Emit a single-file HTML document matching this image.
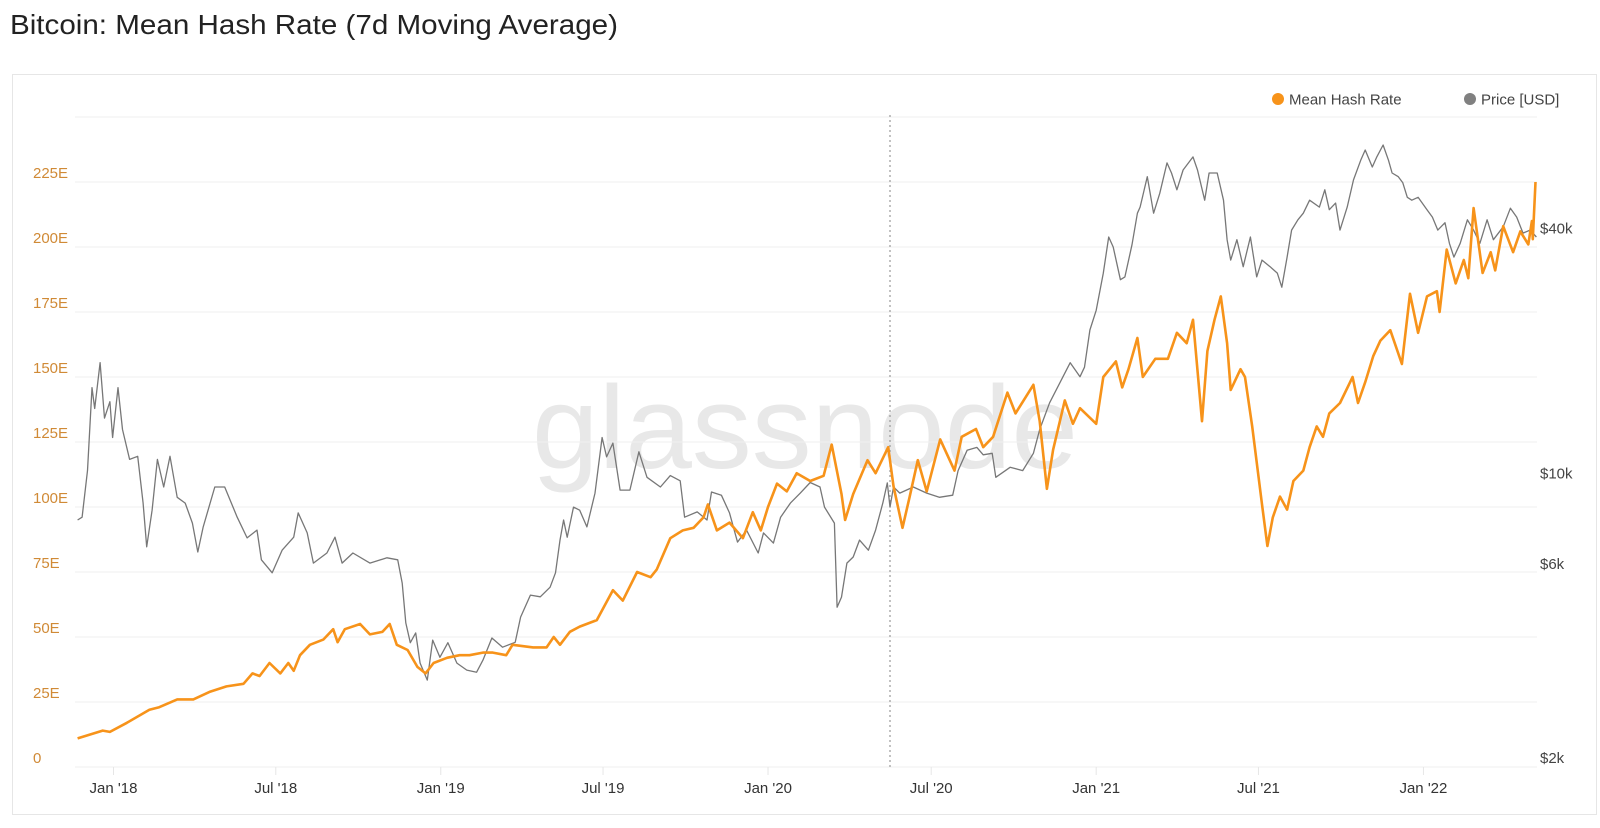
<!DOCTYPE html>
<html><head><meta charset="utf-8"><style>
html,body{margin:0;padding:0;background:#fff;width:1600px;height:828px;overflow:hidden}
svg{display:block;font-family:"Liberation Sans",sans-serif}
</style></head><body>
<svg id="chart" width="1600" height="828" viewBox="0 0 1600 828" xmlns="http://www.w3.org/2000/svg">
<text x="10" y="34" font-size="28" fill="#222" textLength="608" lengthAdjust="spacingAndGlyphs">Bitcoin: Mean Hash Rate (7d Moving Average)</text>
<rect x="12.5" y="74.5" width="1584" height="740" fill="#fff" stroke="#e6e6e6"/>
<text x="532" y="468" font-size="118" fill="#e8e8e8" textLength="546" lengthAdjust="spacingAndGlyphs">glassnode</text>
<g id="grid"></g>
<g id="axes"></g>
<line x1="890" y1="115" x2="890" y2="767" stroke="#999" stroke-width="1.2" stroke-dasharray="2,3"/>
<g id="series"></g>
<g>
<g><circle cx="1278" cy="99" r="6" fill="#f7931a"/><text x="1289" y="104.5" font-size="15" fill="#444">Mean Hash Rate</text></g>
<g><circle cx="1470" cy="99" r="6" fill="#808080"/><text x="1481" y="104.5" font-size="15" fill="#444">Price [USD]</text></g>
</g>
</svg>
<script>
// data: days since 2018-01-01
const hashDays=[-40,-12,-4,15,40,51,71,89,108,126,145,155,163,174,186,195,201,208,219,234,245,250,258,275,286,300,308,316,328,339,348,357,372,386,397,412,423,438,445,468,483,491,498,509,520,539,557,568,584,599,606,621,635,647,658,663,673,687,702,713,722,730,740,751,762,777,792,801,812,816,825,841,850,864,870,880,888,897,907,922,938,946,962,970,981,997,1006,1026,1033,1041,1048,1061,1070,1078,1096,1104,1118,1125,1132,1142,1148,1162,1176,1186,1197,1204,1214,1220,1228,1235,1242,1246,1257,1262,1270,1281,1287,1293,1301,1309,1316,1327,1334,1342,1349,1356,1368,1382,1388,1396,1405,1413,1424,1437,1446,1455,1465,1476,1479,1487,1497,1506,1511,1517,1527,1536,1541,1550,1561,1569,1578,1582,1583,1586];
const hashValues=[11,14,13.5,17,22,23,26,26,29,31,32,36,35,40,36,40,37,43,47,49,53,48,53,55,51,52,55,47,45,38.5,36,40,42,43,43,44,44,43,47,46,46,50,47,52,54,56.5,68,64,75,73,76,88,91,92,96,101,91,94,88,98,91,100,109,106,113,110,112,124,105,95,105,118,113,123,108,92,104,118,106,126,114,127,130,123,127,144,136,147,133,107,122,141,132,138,132,150,156,146,153,165,150,157,157,167,163,172,133,160,172,181,163,145,153,150,131,101,85,96,104,99,110,114,123,131,127,136,140,150,140,148,158,164,168,155,182,167,181,183,175,199,186,195,188,215,190,198,191,208,198,206,201,210,203,225];
const priceDays=[-40,-35,-29,-24,-21,-15,-10,-4,-1,5,10,18,27,33,37,43,49,56,63,71,80,88,94,100,113,124,138,149,160,165,177,188,201,206,216,223,238,247,255,267,286,305,317,322,326,331,337,342,350,356,364,373,383,394,405,412,422,434,448,454,465,476,487,493,498,502,506,513,520,528,537,545,550,557,565,576,586,595,610,621,632,637,651,662,667,678,687,696,706,719,725,736,744,755,766,777,788,793,804,807,812,818,825,832,842,850,858,863,866,870,877,892,907,921,936,942,952,963,970,980,984,1000,1014,1026,1033,1044,1059,1067,1078,1083,1089,1096,1104,1110,1115,1123,1128,1136,1142,1145,1153,1160,1167,1175,1180,1186,1193,1204,1209,1217,1222,1231,1238,1242,1246,1253,1260,1268,1275,1281,1290,1298,1303,1309,1314,1321,1327,1334,1345,1351,1356,1363,1368,1376,1383,1391,1396,1404,1409,1416,1422,1426,1433,1438,1443,1448,1455,1465,1471,1477,1485,1490,1495,1502,1510,1517,1524,1532,1539,1550,1558,1565,1572,1580,1587];
const priceValues=[8090,8220,10700,17100,15200,19700,14400,15800,12900,17100,13500,11400,11600,8900,6950,8550,11400,9750,11600,9200,8900,7950,6750,7780,9750,9750,8220,7310,7640,6460,6000,6820,7340,8420,7520,6340,6710,7340,6340,6710,6340,6530,6460,5660,4520,4040,4270,3600,3270,4100,3720,4040,3600,3460,3420,3660,4150,3940,4050,4670,5290,5240,5530,6000,7220,8090,7340,8700,8550,7780,9420,12900,11560,12500,9580,9580,11900,10300,9750,10400,10100,8220,8470,8090,9480,9310,8420,7140,7640,6710,7520,7100,8220,8900,9420,10000,9750,8700,7950,4940,5230,6340,6560,7220,6820,7640,8900,9980,8700,9750,9420,9750,9420,9200,9310,10700,12000,12200,11700,11800,10300,10900,10700,11800,13500,15700,18200,19700,18200,19200,23700,26500,32700,40100,37900,31500,32000,38400,45900,47500,56400,45900,51400,61000,57600,52400,58600,63100,58600,49400,57600,57600,49400,39500,35200,39500,33900,40100,32000,35200,33900,32700,30200,35800,41700,44200,45900,49400,47500,52400,46800,48600,41700,47500,55400,61900,65600,59600,63100,67500,61900,57600,56400,54500,50200,49400,50200,46800,44900,41700,43500,38700,35800,38700,44200,41700,38700,44200,39500,42500,47200,44900,41000,41700,40100];
const hashTicks=[0,25,50,75,100,125,150,175,200,225];
const hashTickLabels=["0","25E","50E","75E","100E","125E","150E","175E","200E","225E"];
const priceTicks=[2000,6000,10000,40000];
const priceTickLabels=["$2k","$6k","$10k","$40k"];
const dateTicks=[0,181,365,546,730,912,1096,1277,1461];
const dateTickLabels=["Jan '18","Jul '18","Jan '19","Jul '19","Jan '20","Jul '20","Jan '21","Jul '21","Jan '22"];

const NS="http://www.w3.org/2000/svg";
const X0=113.5, PXD=0.8966, Y0=767;
const xOf=d=>X0+d*PXD;
const yHash=v=>Y0-v*2.6;
const yPrice=p=>Y0-407*Math.log10(p/2000);
function mk(tag,attrs,parent){const e=document.createElementNS(NS,tag);for(const k in attrs)e.setAttribute(k,attrs[k]);parent.appendChild(e);return e;}
const grid=document.getElementById('grid'),axes=document.getElementById('axes'),series=document.getElementById('series');
for(let k=0;k<=10;k++){
  const y=yHash(k*25);
  const l=mk('line',{x1:75,x2:1537,y1:y,y2:y,stroke:'#efefef','stroke-width':1},grid);
  
  
}
hashTicks.forEach((v,i)=>{
  const t=mk('text',{x:33,y:yHash(v)-4,'font-size':15,fill:'#d08a36'},axes);
  t.textContent=hashTickLabels[i];
  
  
});
priceTicks.forEach((p,i)=>{
  const t=mk('text',{x:1540,y:yPrice(p)-4,'font-size':15,fill:'#444'},axes);
  t.textContent=priceTickLabels[i];
  
  
});
dateTicks.forEach((d,i)=>{
  const x=xOf(d);
  const tk=mk('line',{x1:x,x2:x,y1:767,y2:775,stroke:'#e6e6e6'},axes);
  
  
  const t=mk('text',{x:x,y:793,'font-size':15,fill:'#333','text-anchor':'middle'},axes);
  t.textContent=dateTickLabels[i];
  
  
});
const pricePts=priceDays.map((d,i)=>xOf(d).toFixed(1)+','+yPrice(priceValues[i]).toFixed(1)).join(' ');
const pl=mk('polyline',{points:pricePts,fill:'none',stroke:'#777','stroke-width':1.3,'stroke-linejoin':'round'},series);


const hashPts=hashDays.map((d,i)=>xOf(d).toFixed(1)+','+yHash(hashValues[i]).toFixed(1)).join(' ');
const hl=mk('polyline',{points:hashPts,fill:'none',stroke:'#f7931a','stroke-width':2.6,'stroke-linejoin':'round'},series);


</script>
</body></html>
